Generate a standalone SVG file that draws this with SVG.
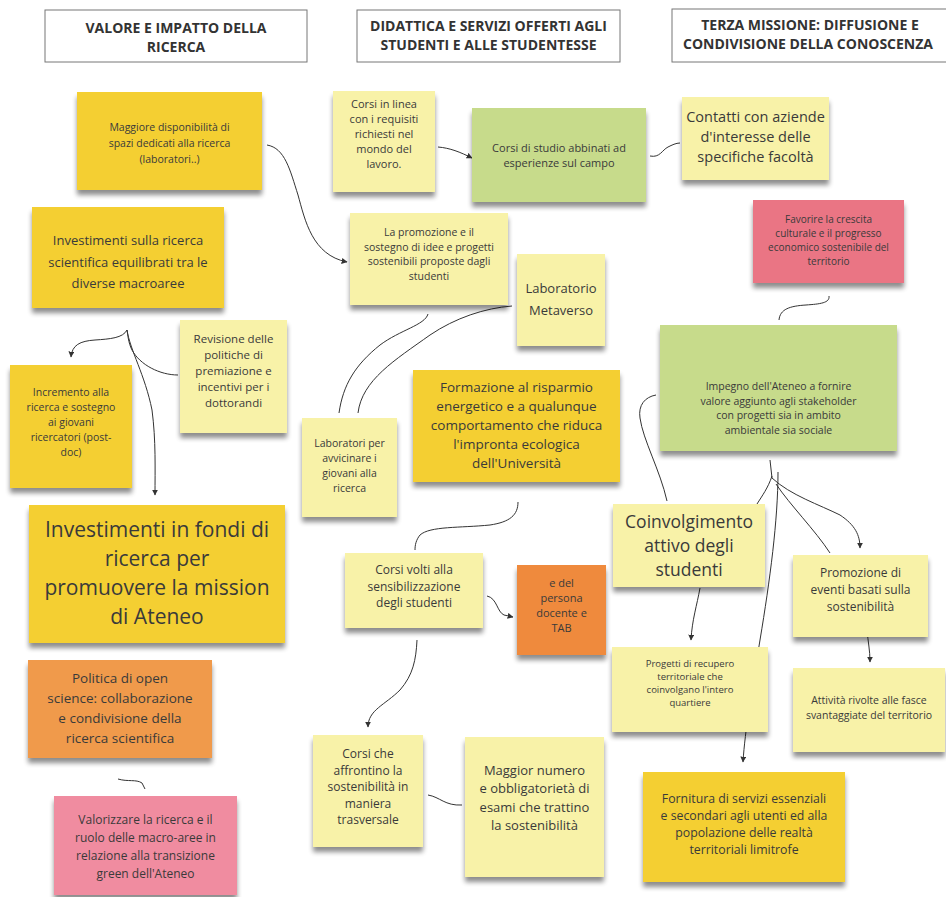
<svg xmlns="http://www.w3.org/2000/svg" width="946" height="897" viewBox="0 0 946 897">
<defs>
<style>
.t{font-family:"Open Sans","Liberation Sans",sans-serif;fill:#3a3a3a;text-anchor:middle}
.hdr{font-weight:bold;font-size:14px;fill:#333}
.hbox{fill:#fff;stroke:#777;stroke-width:1}
.n{filter:url(#sh)}
.gold{fill:#f4cf31}
.pale{fill:#f8f2a8}
.green{fill:#c7db8b}
.orange{fill:#f09a4c}
.orange2{fill:#ef8a3e}
.pink{fill:#f08ca0}
.rose{fill:#ea7584}
.c{fill:none;stroke:#333;stroke-width:1}
.a{marker-end:url(#ah)}
</style>
<filter id="sh" x="-10%" y="-10%" width="120%" height="135%">
<feGaussianBlur in="SourceAlpha" stdDeviation="2.5"/>
<feOffset dy="5" result="b"/>
<feComponentTransfer><feFuncA type="linear" slope="0.45"/></feComponentTransfer>
<feMerge><feMergeNode/><feMergeNode in="SourceGraphic"/></feMerge>
</filter>
<marker id="ah" viewBox="0 0 10 10" refX="9" refY="5" markerWidth="6" markerHeight="6" orient="auto" markerUnits="userSpaceOnUse">
<path d="M0,0 L10,5 L0,10 z" fill="#333"/>
</marker>
</defs>
<rect width="946" height="897" fill="#fff"/>

<g id="h1"><rect class="hbox" x="45" y="10" width="262" height="52"/>
<text class="t hdr" x="176"><tspan x="176" y="33">VALORE E IMPATTO DELLA</tspan><tspan x="176" y="52">RICERCA</tspan></text></g>
<g id="h2"><rect class="hbox" x="357" y="10" width="263" height="52"/>
<text class="t hdr"><tspan x="488.5" y="31">DIDATTICA E SERVIZI OFFERTI AGLI</tspan><tspan x="488.5" y="50">STUDENTI E ALLE STUDENTESSE</tspan></text></g>
<g id="h3"><rect class="hbox" x="672" y="9" width="280" height="53"/>
<text class="t hdr"><tspan x="810" y="30">TERZA MISSIONE: DIFFUSIONE E</tspan><tspan x="808" y="49">CONDIVISIONE DELLA CONOSCENZA</tspan></text></g>

<g id="connectors">
<path class="c a" d="M267,145 C285,148 290,170 298,195 C305,220 312,255 347,262"/>
<path class="c a" d="M438,147 C450,148 460,152 472,158"/>
<path class="c" d="M650,156 C660,158 662,150 668,147 C672,145 676,143 680,143"/>
<path class="c" d="M829,296 C830,303 820,304 806,305 C790,306 780,309 779,320"/>
<path class="c" d="M428,314 C425,325 400,330 380,345 C355,365 343,385 339,413"/>
<path class="c" d="M512,306 C485,308 455,318 430,335 C395,360 362,380 358,413"/>
<path class="c" d="M518,502 C518,515 510,522 490,525 C460,528 430,526 420,535 C416,540 415,545 415,550"/>
<path class="c a" d="M487,596 C497,598 497,612 504,615 L513,617"/>
<path class="c a" d="M417,640 C416,660 413,675 400,690 C385,705 368,710 368,727"/>
<path class="c" d="M428,795 C440,797 445,806 462,805"/>
<path class="c" d="M118,779 C128,782 136,779 142,783 L145,789"/>
<path class="c a" d="M127,330 C123,338 110,339 95,340 C80,341 72,345 71,357"/>
<path class="c a" d="M127,330 C130,350 145,375 152,410 C156,440 155,470 155,495"/>
<path class="c" d="M178,375 C160,375 140,365 132,350 C128,342 128,335 127,330"/>
<path class="c" d="M770,460 L772,478"/>
<path class="c" d="M772,476 C768,488 762,496 757,504"/>
<path class="c a" d="M778,472 C778,520 770,580 760,640 C752,690 745,730 743,762"/>
<path class="c a" d="M772,478 C790,495 820,505 840,515 C855,525 860,535 860,548"/>
<path class="c" d="M776,484 C790,505 815,530 830,553"/>
<path class="c" d="M656,395 C645,397 638,405 640,418 C643,440 660,470 667,501"/>
<path class="c a" d="M700,588 C697,605 692,620 691,640"/>
<path class="c a" d="M867,630 C868,642 870,650 870,662"/>
</g>

<g id="n1"><rect class="n gold" x="77" y="92" width="185" height="98"/>
<text class="t" font-size="10.5"><tspan x="169.5" y="131">Maggiore disponibilità di</tspan><tspan x="169.5" y="147">spazi dedicati alla ricerca</tspan><tspan x="169.5" y="163">(laboratori..)</tspan></text></g>
<g id="n2"><rect class="n gold" x="32" y="207" width="192" height="101"/>
<text class="t" font-size="13"><tspan x="128" y="245">Investimenti sulla ricerca</tspan><tspan x="128" y="267">scientifica equilibrati tra le</tspan><tspan x="128" y="288">diverse macroaree</tspan></text></g>
<g id="n3"><rect class="n pale" x="180" y="320" width="107" height="113"/>
<text class="t" font-size="11.5"><tspan x="233.5" y="343">Revisione delle</tspan><tspan x="233.5" y="359">politiche di</tspan><tspan x="233.5" y="375">premiazione e</tspan><tspan x="233.5" y="391">incentivi per i</tspan><tspan x="233.5" y="407">dottorandi</tspan></text></g>
<g id="n4"><rect class="n gold" x="10" y="365" width="122" height="123"/>
<text class="t" font-size="10.5"><tspan x="71" y="396">Incremento alla</tspan><tspan x="71" y="411">ricerca e sostegno</tspan><tspan x="71" y="426">ai giovani</tspan><tspan x="71" y="441">ricercatori (post-</tspan><tspan x="71" y="456">doc)</tspan></text></g>
<g id="n5"><rect class="n gold" x="29" y="505" width="256" height="138"/>
<text class="t" font-size="21"><tspan x="157" y="537">Investimenti in fondi di</tspan><tspan x="157" y="566">ricerca per</tspan><tspan x="157" y="595">promuovere la mission</tspan><tspan x="157" y="624">di Ateneo</tspan></text></g>
<g id="n6"><rect class="n orange" x="28" y="660" width="184" height="98"/>
<text class="t" font-size="13.5"><tspan x="120" y="683">Politica di open</tspan><tspan x="120" y="703">science: collaborazione</tspan><tspan x="120" y="723">e condivisione della</tspan><tspan x="120" y="743">ricerca scientifica</tspan></text></g>
<g id="n7"><rect class="n pink" x="54" y="796" width="183" height="99"/>
<text class="t" font-size="12"><tspan x="145.5" y="824">Valorizzare la ricerca e il</tspan><tspan x="145.5" y="842">ruolo delle macro-aree in</tspan><tspan x="145.5" y="860">relazione alla transizione</tspan><tspan x="145.5" y="878">green dell'Ateneo</tspan></text></g>

<g id="n8"><rect class="n pale" x="333" y="91" width="102" height="101"/>
<text class="t" font-size="11"><tspan x="384" y="108">Corsi in linea</tspan><tspan x="384" y="123">con i requisiti</tspan><tspan x="384" y="138">richiesti nel</tspan><tspan x="384" y="153">mondo del</tspan><tspan x="384" y="168">lavoro.</tspan></text></g>
<g id="n9"><rect class="n green" x="472" y="108" width="174" height="94"/>
<text class="t" font-size="11"><tspan x="559" y="152">Corsi di studio abbinati ad</tspan><tspan x="559" y="167">esperienze sul campo</tspan></text></g>
<g id="n10"><rect class="n pale" x="350" y="213" width="158" height="92"/>
<text class="t" font-size="10.5"><tspan x="429" y="236">La promozione e il</tspan><tspan x="429" y="250.5">sostegno di idee e progetti</tspan><tspan x="429" y="265">sostenibili proposte dagli</tspan><tspan x="429" y="279.5">studenti</tspan></text></g>
<g id="n11"><rect class="n pale" x="517" y="254" width="88" height="92"/>
<text class="t" font-size="13"><tspan x="561" y="293">Laboratorio</tspan><tspan x="561" y="315">Metaverso</tspan></text></g>
<g id="n12"><rect class="n pale" x="302" y="418" width="95" height="99"/>
<text class="t" font-size="10.5"><tspan x="349.5" y="447">Laboratori per</tspan><tspan x="349.5" y="462">avvicinare i</tspan><tspan x="349.5" y="477">giovani alla</tspan><tspan x="349.5" y="492">ricerca</tspan></text></g>
<g id="n13"><rect class="n gold" x="413" y="370" width="207" height="112"/>
<text class="t" font-size="13.5"><tspan x="516.5" y="392">Formazione al risparmio</tspan><tspan x="516.5" y="411">energetico e a qualunque</tspan><tspan x="516.5" y="430">comportamento che riduca</tspan><tspan x="516.5" y="449">l'impronta ecologica</tspan><tspan x="516.5" y="468">dell'Università</tspan></text></g>
<g id="n14"><rect class="n pale" x="345" y="553" width="138" height="75"/>
<text class="t" font-size="12"><tspan x="414" y="574">Corsi volti alla</tspan><tspan x="414" y="590.5">sensibilizzazione</tspan><tspan x="414" y="607">degli studenti</tspan></text></g>
<g id="n15"><rect class="n orange2" x="517" y="565" width="89" height="90"/>
<text class="t" font-size="11"><tspan x="561.5" y="587">e del</tspan><tspan x="561.5" y="602">persona</tspan><tspan x="561.5" y="617">docente e</tspan><tspan x="561.5" y="632">TAB</tspan></text></g>
<g id="n16"><rect class="n pale" x="313" y="735" width="110" height="112"/>
<text class="t" font-size="12"><tspan x="368" y="758">Corsi che</tspan><tspan x="368" y="774.5">affrontino la</tspan><tspan x="368" y="791">sostenibilità in</tspan><tspan x="368" y="807.5">maniera</tspan><tspan x="368" y="824">trasversale</tspan></text></g>
<g id="n17"><rect class="n pale" x="465" y="737" width="139" height="140"/>
<text class="t" font-size="13"><tspan x="534.5" y="775">Maggior numero</tspan><tspan x="534.5" y="793">e obbligatorietà di</tspan><tspan x="534.5" y="812">esami che trattino</tspan><tspan x="534.5" y="830">la sostenibilità</tspan></text></g>

<g id="n18"><rect class="n pale" x="682" y="97" width="147" height="83"/>
<text class="t" font-size="14.5"><tspan x="755.5" y="122">Contatti con aziende</tspan><tspan x="755.5" y="142">d'interesse delle</tspan><tspan x="755.5" y="162">specifiche facoltà</tspan></text></g>
<g id="n19"><rect class="n rose" x="753" y="200" width="151" height="83"/>
<text class="t" font-size="10"><tspan x="828.5" y="223">Favorire la crescita</tspan><tspan x="828.5" y="237">culturale e il progresso</tspan><tspan x="828.5" y="251">economico sostenibile del</tspan><tspan x="828.5" y="265">territorio</tspan></text></g>
<g id="n20"><rect class="n green" x="660" y="325" width="237" height="126"/>
<text class="t" font-size="10.5"><tspan x="778.5" y="390">Impegno dell'Ateneo a fornire</tspan><tspan x="778.5" y="404.5">valore aggiunto agli  stakeholder</tspan><tspan x="778.5" y="419">con progetti sia in ambito</tspan><tspan x="778.5" y="433.5">ambientale sia sociale</tspan></text></g>
<g id="n21"><rect class="n pale" x="613" y="504" width="152" height="83"/>
<text class="t" font-size="17.5"><tspan x="689" y="528">Coinvolgimento</tspan><tspan x="689" y="552">attivo degli</tspan><tspan x="689" y="576">studenti</tspan></text></g>
<g id="n22"><rect class="n pale" x="793" y="555" width="135" height="82"/>
<text class="t" font-size="12"><tspan x="860.5" y="577">Promozione di</tspan><tspan x="860.5" y="594">eventi basati sulla</tspan><tspan x="860.5" y="611">sostenibilità</tspan></text></g>
<g id="n23"><rect class="n pale" x="612" y="647" width="156" height="85"/>
<text class="t" font-size="9.5"><tspan x="690" y="667">Progetti di recupero</tspan><tspan x="690" y="680">territoriale che</tspan><tspan x="690" y="693">coinvolgano l'intero</tspan><tspan x="690" y="706">quartiere</tspan></text></g>
<g id="n24"><rect class="n pale" x="793" y="668" width="152" height="84"/>
<text class="t" font-size="10.5"><tspan x="869" y="704">Attività rivolte alle fasce</tspan><tspan x="869" y="719">svantaggiate del territorio</tspan></text></g>
<g id="n25"><rect class="n gold" x="643" y="772" width="202" height="110"/>
<text class="t" font-size="12.3"><tspan x="744" y="803">Fornitura di servizi essenziali</tspan><tspan x="744" y="820">e secondari agli utenti ed alla</tspan><tspan x="744" y="837">popolazione delle realtà</tspan><tspan x="744" y="854">territoriali limitrofe</tspan></text></g>
</svg>
